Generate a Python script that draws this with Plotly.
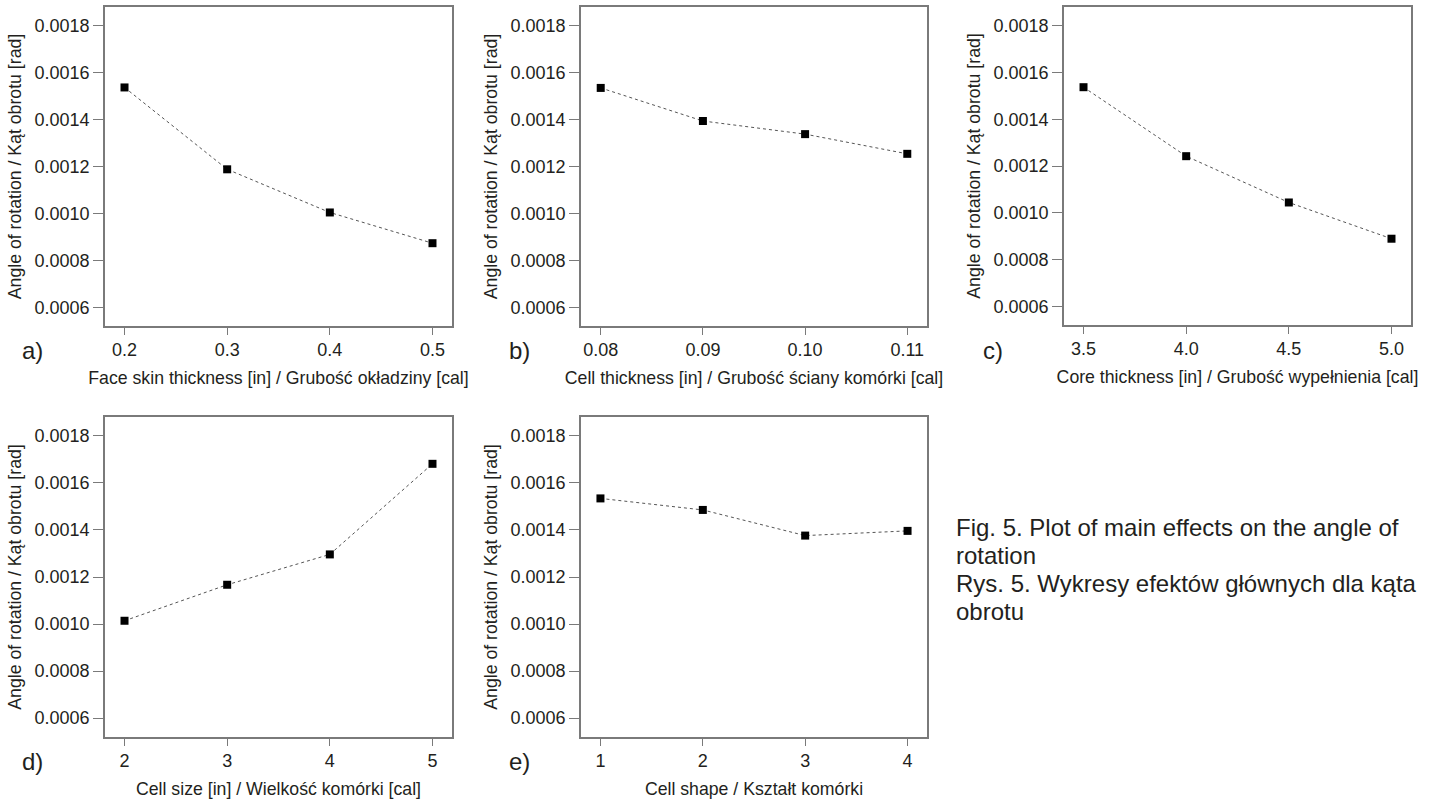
import plotly.graph_objects as go

# ---- data ----
face_skin_x = [0.2, 0.3, 0.4, 0.5]
face_skin_y = [0.001537, 0.001188, 0.001004, 0.000873]

cell_thick_x = [0.08, 0.09, 0.10, 0.11]
cell_thick_y = [0.001535, 0.001394, 0.001338, 0.001254]

core_thick_x = [3.5, 4.0, 4.5, 5.0]
core_thick_y = [0.001537, 0.001242, 0.001044, 0.000889]

cell_size_x = [2, 3, 4, 5]
cell_size_y = [0.001014, 0.001167, 0.001296, 0.001681]

cell_shape_x = [1, 2, 3, 4]
cell_shape_y = [0.001534, 0.001485, 0.001376, 0.001396]

y_title = "Angle of rotation / Kąt obrotu [rad]"
x_titles = [
    "Face skin thickness [in] / Grubość okładziny [cal]",
    "Cell thickness [in] / Grubość ściany komórki [cal]",
    "Core thickness [in] / Grubość wypełnienia [cal]",
    "Cell size [in] / Wielkość komórki [cal]",
    "Cell shape / Kształt komórki",
]
panel_letters = ["a)", "b)", "c)", "d)", "e)"]
y_ticks = [0.0006, 0.0008, 0.0010, 0.0012, 0.0014, 0.0016, 0.0018]
caption_lines = [
    "Fig. 5. Plot of main effects on the angle of",
    "rotation",
    "Rys. 5. Wykresy efektów głównych dla kąta",
    "obrotu",
]

series = [
    (face_skin_x, face_skin_y, [0.181, 0.519], ".1f"),
    (cell_thick_x, cell_thick_y, [0.07807, 0.11193], ".2f"),
    (core_thick_x, core_thick_y, [3.405, 5.095], ".1f"),
    (cell_size_x, cell_size_y, [1.81, 5.19], "d"),
    (cell_shape_x, cell_shape_y, [0.81, 4.19], "d"),
]

W, H = 1433, 801
# pixel boxes (left, right, top, bottom)
boxes = [
    (105, 452, 7, 326),
    (581, 927, 7, 326),
    (1064, 1411, 7, 325),
    (105, 452, 417, 737),
    (581, 927, 417, 737),
]
# panel letter positions (left x, center y)
letter_pos = [(20, 351), (507, 351), (981, 351), (20, 761), (507, 761)]

FONT = "Liberation Sans, Arial, sans-serif"
TXT = "#231f20"
AX = "#7a7a7a"

fig = go.Figure()
layout = {}
annotations = []
for i, ((xs, ys, xr, xfmt), (l, r, t, b)) in enumerate(zip(series, boxes)):
    n = "" if i == 0 else str(i + 1)
    fig.add_trace(go.Scatter(
        x=xs, y=ys, mode="lines+markers",
        line=dict(color="#555555", width=1, dash="dot"),
        marker=dict(symbol="square", size=8, color="black"),
        xaxis="x" + n, yaxis="y" + n, showlegend=False,
        hoverinfo="x+y",
    ))
    layout["xaxis" + n] = dict(
        domain=[l / W, r / W], anchor="y" + n, range=xr,
        tickvals=xs, tickformat=xfmt,
        showline=True, mirror=True, linecolor=AX, linewidth=1.5,
        ticks="outside", ticklen=7, tickcolor=AX, tickwidth=1,
        showgrid=False, zeroline=False,
        tickfont=dict(family=FONT, size=18, color=TXT),
        title=dict(text=x_titles[i], font=dict(family=FONT, size=17.7, color=TXT), standoff=12),
    )
    layout["yaxis" + n] = dict(
        domain=[1 - b / H, 1 - t / H], anchor="x" + n, range=[0.00052, 0.00188],
        tickvals=y_ticks, tickformat=".4f",
        showline=True, mirror=True, linecolor=AX, linewidth=1.5,
        ticks="outside", ticklen=10, tickcolor=AX, tickwidth=1,
        showgrid=False, zeroline=False,
        tickfont=dict(family=FONT, size=18, color=TXT),
        title=dict(text=y_title, font=dict(family=FONT, size=17.7, color=TXT), standoff=8),
    )
    lx, ly = letter_pos[i]
    annotations.append(dict(
        text=panel_letters[i], xref="paper", yref="paper",
        x=lx / W, y=1 - ly / H, xanchor="left", yanchor="middle",
        showarrow=False, font=dict(family=FONT, size=24, color=TXT),
    ))

for k, line in enumerate(caption_lines):
    annotations.append(dict(
        text=line, xref="paper", yref="paper", x=954 / W, y=1 - (527 + 28.3 * k) / H,
        xanchor="left", yanchor="middle", align="left", showarrow=False,
        font=dict(family=FONT, size=24, color=TXT),
    ))

fig.update_layout(
    width=W, height=H, margin=dict(l=0, r=0, t=0, b=0),
    paper_bgcolor="white", plot_bgcolor="white",
    annotations=annotations, **layout,
)

fig.write_html("out.html", config={"displayModeBar": False},
               post_script="document.body.style.margin='0';")
